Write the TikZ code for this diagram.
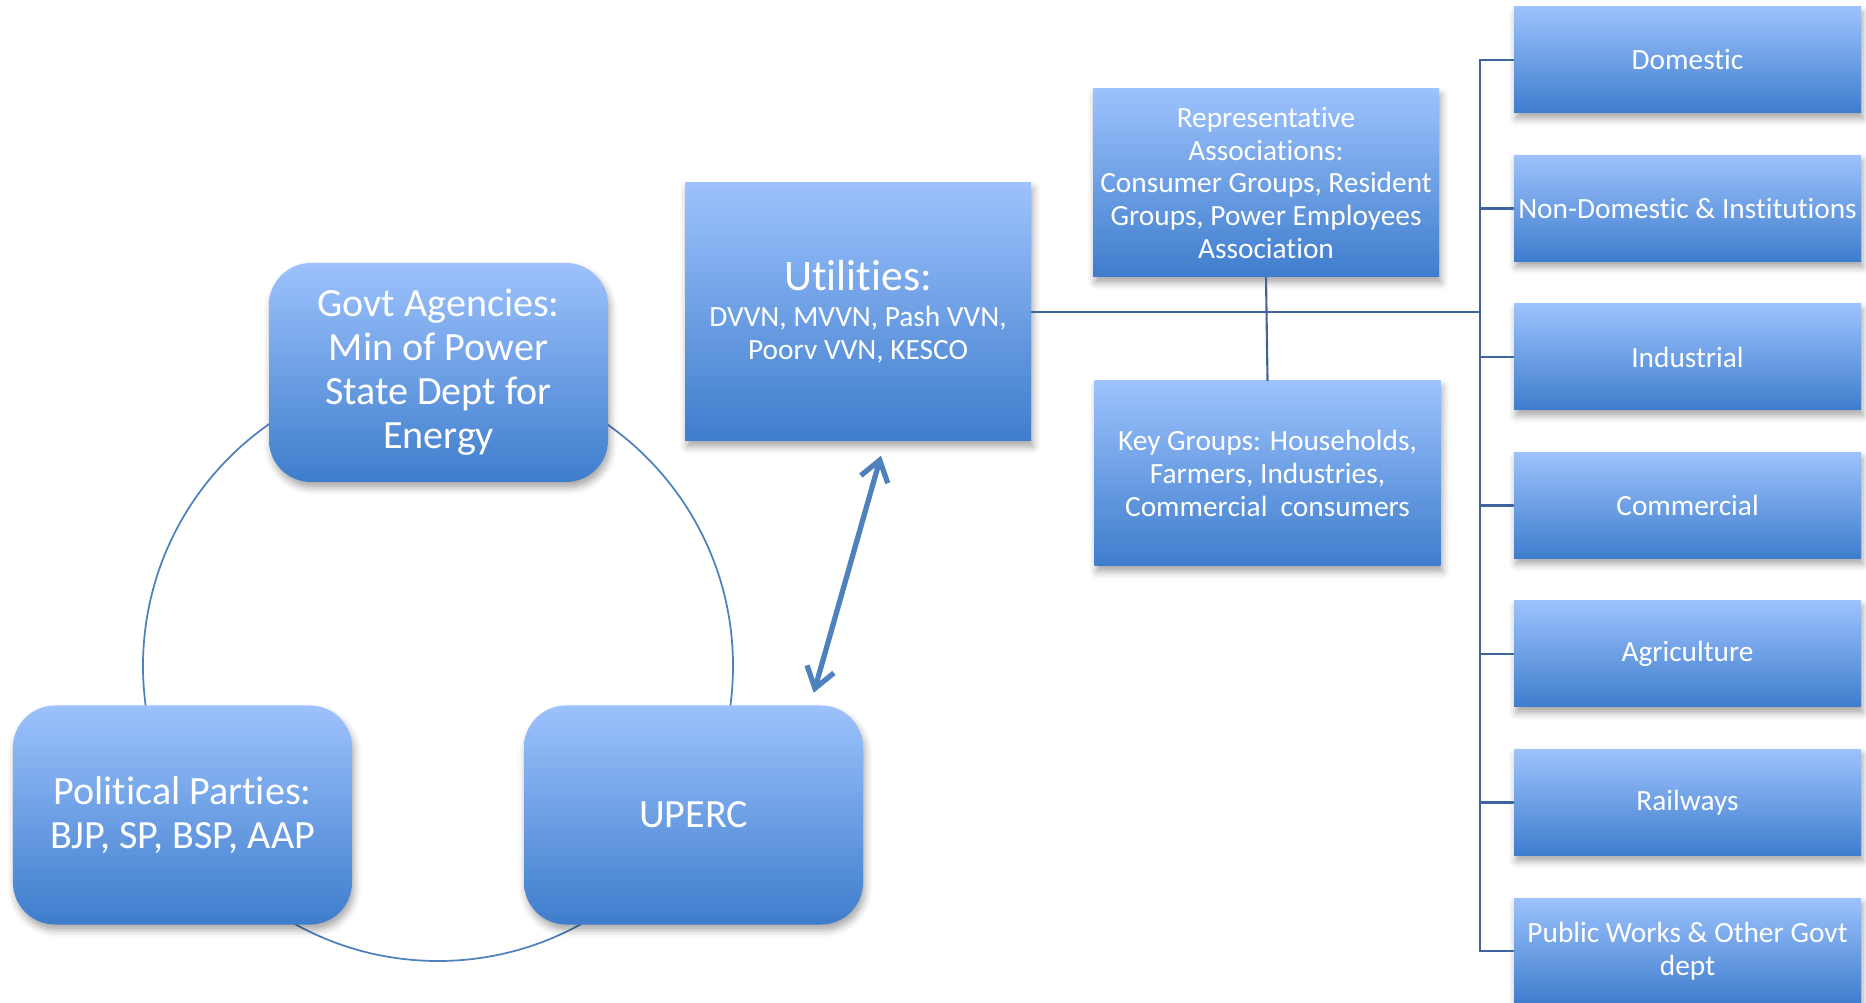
\documentclass[tikz,border=0pt]{standalone}
\usepackage{fontspec}
\setmainfont{Carlito}[Ligatures=NoCommon]
\usepackage{tikz}
\usetikzlibrary{arrows.meta,shadows.blur}
\usepackage{xcolor}
\definecolor{boxtop}{RGB}{157,194,253}
\definecolor{boxbot}{RGB}{62,125,204}
\definecolor{treeline}{RGB}{62,100,155}
\definecolor{ringline}{RGB}{79,129,189}

\begin{document}
\begin{tikzpicture}[line cap=round,
  box/.style={rectangle,top color=boxtop,bottom color=boxbot,draw=none,text=white,align=center,inner sep=1pt,
    blur shadow={shadow xshift=0.6pt,shadow yshift=-1.6pt,shadow blur radius=2pt,shadow opacity=35}},
  roundbox/.style={box,rounded corners=0.42cm,minimum width=3.39cm,minimum height=2.19cm,font=\fontsize{11.4}{12.5}\selectfont},
  tallbox/.style={box,minimum width=3.46cm,font=\fontsize{8.35}{9.3}\selectfont},
  tarbox/.style={box,minimum width=3.47cm,minimum height=1.06cm,font=\fontsize{8.35}{9.3}\selectfont},
  tree/.style={treeline,line width=0.6pt},
  dblarrow/.style={ringline,line width=1.5pt,{Straight Barb[length=2mm,width=2.8mm]}-{Straight Barb[length=2mm,width=2.8mm]}}]
\useasboundingbox (0,0) rectangle (18.66,10.02);
\draw[ringline,line width=0.5pt] (4.38,3.36) circle (2.95);
\node[roundbox] (govt) at (4.385,6.295) {Govt Agencies:\\Min of Power\\State Dept for\\Energy};
\node[roundbox] (party) at (1.825,1.87) {Political Parties:\\BJP, SP, BSP, AAP};
\node[roundbox] (uperc) at (6.935,1.87) {UPERC};
\node[tallbox,minimum height=2.58cm] (util) at (8.58,6.90) {{\fontsize{12.4}{14}\selectfont Utilities:}\\[1pt]DVVN, MVVN, Pash VVN,\\Poorv VVN, KESCO};
\node[tallbox,minimum height=1.88cm] (rep) at (12.66,8.19) {Representative\\Associations:\\Consumer Groups, Resident\\Groups, Power Employees\\Association};
\node[tallbox,minimum height=1.85cm] (key) at (12.675,5.285) {Key Groups: Households,\\Farmers, Industries,\\Commercial~ consumers};
\node[tarbox] (dom) at (16.875,9.42) {Domestic};
\node[tarbox] (nondom) at (16.875,7.935) {Non-Domestic \& Institutions};
\node[tarbox] (ind) at (16.875,6.45) {Industrial};
\node[tarbox] (com) at (16.875,4.965) {Commercial};
\node[tarbox] (agri) at (16.875,3.48) {Agriculture};
\node[tarbox] (rail) at (16.875,1.995) {Railways};
\node[tarbox] (pub) at (16.875,0.51) {Public Works \& Other Govt\\dept};
\draw[tree] (dom.west) -- ++(-0.33,0) coordinate (trunk) |- (pub.west);
\foreach \n in {nondom,ind,com,agri,rail}
  \draw[tree] (\n.west) -- (\n.west -| trunk);
\draw[tree] (util.east) -- (util.east -| trunk);
\draw[tree] (rep.south) -- (key.north);
\draw[dblarrow] ([xshift=2.3mm,yshift=-1.4mm]util.south) -- ([xshift=-5mm,yshift=1.2mm]uperc.north east);
\end{tikzpicture}
\end{document}
